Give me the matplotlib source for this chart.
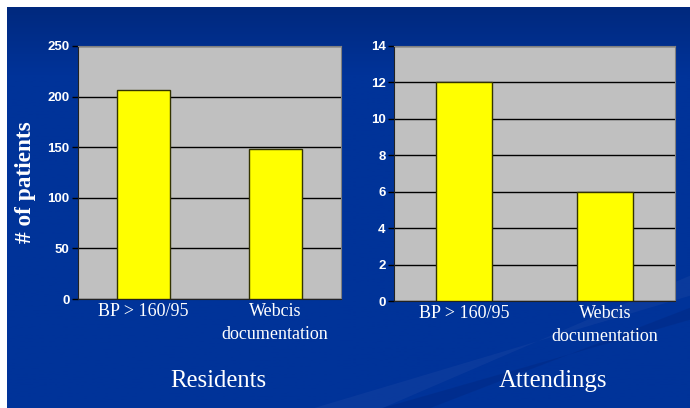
import matplotlib.pyplot as plt
import numpy as np
from matplotlib.patches import Polygon
from matplotlib.colors import LinearSegmentedColormap

# data
categories = ['BP > 160/95', 'Webcis\ndocumentation']
residents = [207, 148]
attendings = [12, 6]
panel_titles = ['Residents', 'Attendings']

fig = plt.figure(figsize=(6.9, 4.08), dpi=100)
fig.patch.set_facecolor('white')

# blue slide background with gradient
bg = fig.add_axes([7/690, 0, 683/690, 401/408])
bg.set_axis_off()
grad = np.linspace(0, 1, 256).reshape(-1, 1)
grad = np.clip(grad * 6, 0, 1)
cmap = LinearSegmentedColormap.from_list('bg', ['#00297e', '#003399'])
bg.imshow(grad, aspect='auto', cmap=cmap, extent=[0, 1, 0, 1], origin='upper')
# faint swoosh stripes
bg.add_patch(Polygon([[0.45, 0.0], [1.0, 0.28], [1.0, 0.33], [0.55, 0.0]],
                     closed=True, color='#2a4fa8', alpha=0.25, lw=0))
bg.add_patch(Polygon([[0.55, 0.0], [1.0, 0.22], [1.0, 0.25], [0.62, 0.0]],
                     closed=True, color='#001f70', alpha=0.25, lw=0))
bg.set_xlim(0, 1)
bg.set_ylim(0, 1)

def panel(rect, values, ymax, step):
    ax = fig.add_axes(rect)
    x = np.arange(len(values))
    ax.set_facecolor('#c0c0c0')
    ax.bar(x, values, width=0.4, color='#ffff00', edgecolor='#333300', lw=1, zorder=3)
    ax.set_xlim(-0.5, 1.5)
    ax.set_ylim(0, ymax)
    ax.set_yticks(np.arange(0, ymax + 1, step))
    ax.yaxis.grid(True, color='black', lw=1)
    ax.set_axisbelow(True)
    ax.set_xticks(x)
    ax.set_xticklabels(categories, family='Liberation Serif', fontsize=13,
                       color='white', linespacing=1.45)
    for t in ax.get_yticklabels():
        t.set_family('Liberation Sans')
        t.set_fontweight('bold')
        t.set_fontsize(9.5)
        t.set_color('white')
    ax.tick_params(axis='x', length=0, pad=3)
    ax.tick_params(axis='y', length=4, width=1, color='black', pad=2)
    for s in ['top', 'right']:
        ax.spines[s].set_color('#808080')
    for s in ['left', 'bottom']:
        ax.spines[s].set_color('#222222')
    return ax

ax1 = panel([78/690, 109/408, 263/690, 253/408], residents, 250, 50)
ax2 = panel([394/690, 107/408, 281/690, 255/408], attendings, 14, 2)

fig.text(25/690, 1 - 182/408, '# of patients', rotation=90, ha='center', va='center',
         family='Liberation Serif', fontweight='bold', fontsize=16.8, color='white')
fig.text(218/690, 1 - 381/408, panel_titles[0], ha='center', va='center',
         family='Liberation Serif', fontsize=17.8, color='white')
fig.text(553/690, 1 - 381/408, panel_titles[1], ha='center', va='center',
         family='Liberation Serif', fontsize=17.8, color='white')

fig.savefig('out.png', dpi=100)
